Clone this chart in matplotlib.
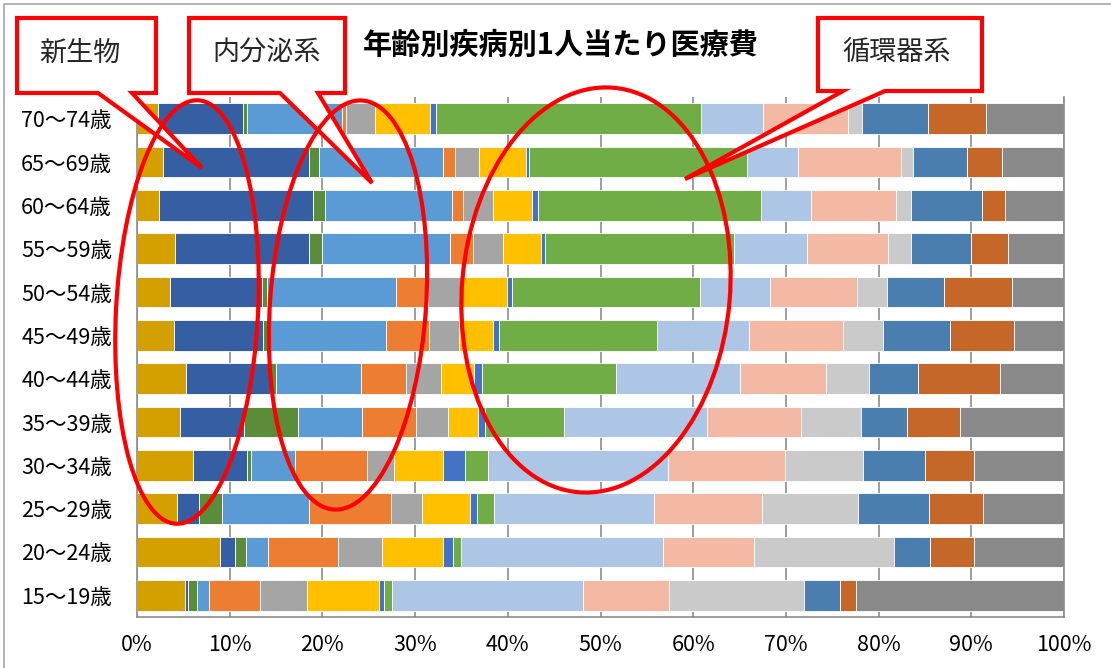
import numpy as np
import matplotlib
matplotlib.use('Agg')
import matplotlib.pyplot as plt
from matplotlib.patches import Polygon, Ellipse

plt.rcParams['font.family'] = ['Noto Sans CJK JP', 'DejaVu Sans']

# age groups, top to bottom
ages = ['70～74歳', '65～69歳', '60～64歳', '55～59歳', '50～54歳', '45～49歳',
        '40～44歳', '35～39歳', '30～34歳', '25～29歳', '20～24歳', '15～19歳']

# share of medical cost per disease group (%)
infect      = [2.3, 2.8, 2.4, 4.1, 3.6, 4.0, 5.3, 4.6, 6.1, 4.3, 8.9, 5.2]
neoplasm    = [9.1, 15.8, 16.6, 14.5, 9.9, 9.6, 9.0, 6.9, 5.8, 2.4, 1.7, 0.3]
blood       = [0.4, 1.1, 1.3, 1.4, 0.5, 0.6, 0.7, 5.9, 0.4, 2.5, 1.2, 1.0]
endocrine   = [10.3, 13.4, 13.7, 13.8, 14.0, 12.7, 9.2, 6.8, 4.8, 9.4, 2.3, 1.3]
mental      = [0.4, 1.3, 1.2, 2.5, 3.4, 4.7, 4.8, 5.9, 7.7, 8.9, 7.6, 5.5]
nervous     = [3.1, 2.6, 3.2, 3.2, 3.7, 3.2, 3.8, 3.4, 3.0, 3.3, 4.7, 5.1]
eye         = [5.9, 5.0, 4.2, 4.1, 4.8, 3.7, 3.5, 3.2, 5.2, 5.2, 6.6, 7.7]
ear         = [0.7, 0.4, 0.7, 0.5, 0.6, 0.6, 0.9, 0.8, 2.4, 0.8, 1.1, 0.6]
circulatory = [28.5, 23.5, 24.0, 20.4, 20.3, 17.1, 14.5, 8.5, 2.5, 1.8, 0.8, 0.8]
respiratory = [6.7, 5.6, 5.4, 7.8, 7.6, 10.0, 13.3, 15.4, 19.4, 17.3, 21.8, 20.7]
digestive   = [9.1, 11.1, 9.2, 8.8, 9.3, 10.1, 9.3, 10.2, 12.7, 11.7, 9.8, 9.2]
skin        = [1.6, 1.3, 1.6, 2.5, 3.3, 4.3, 4.7, 6.4, 8.4, 10.3, 15.1, 14.6]
musculo     = [7.1, 5.8, 7.7, 6.5, 6.1, 7.3, 5.2, 5.0, 6.7, 7.7, 3.9, 3.9]
urinary     = [6.2, 3.8, 2.4, 4.0, 7.4, 6.9, 8.9, 5.7, 5.3, 5.8, 4.7, 1.7]
other       = [8.4, 6.7, 6.4, 6.0, 5.6, 5.4, 6.9, 11.2, 9.7, 8.8, 9.7, 22.5]

series = [infect, neoplasm, blood, endocrine, mental, nervous, eye, ear,
          circulatory, respiratory, digestive, skin, musculo, urinary, other]
colors = ['#D4A000', '#365EA2', '#5A8C3A', '#5B9BD5', '#ED7D31', '#A5A5A5',
          '#FFC000', '#4472C4', '#70AD47', '#ADC6E6', '#F4B9A5', '#CACACA',
          '#4A7EAF', '#C46728', '#898989']

data = np.array(series, dtype=float)
data = data / data.sum(axis=0) * 100  # 100% stacked

fig = plt.figure(figsize=(11.11, 6.68), dpi=100)
ax = fig.add_axes([137 / 1111, 1 - 617 / 668, (1064 - 137) / 1111, (617 - 97) / 668])

y = np.arange(len(ages))
left = np.zeros(len(ages))
for vals, c in zip(data, colors):
    ax.barh(y, vals, left=left, height=0.71, color=c, edgecolor='white', linewidth=0.6, zorder=2)
    left += vals

ax.set_xlim(0, 100)
ax.set_ylim(len(ages) - 0.5, -0.5)
ax.set_yticks(y)
ax.set_yticklabels(ages, fontsize=15.5)
ax.set_xticks(np.arange(0, 101, 10))
ax.set_xticklabels([f'{v}%' for v in range(0, 101, 10)], fontsize=15.5)
ax.tick_params(axis='y', length=0, pad=18)
ax.tick_params(axis='x', length=0, pad=12)
ax.grid(axis='x', color='#8C8C8C', linewidth=1.2, zorder=0)
ax.set_axisbelow(True)
ax.spines['top'].set_visible(False)
for s in ['left', 'bottom', 'right']:
    ax.spines[s].set_color('#8C8C8C')
    ax.spines[s].set_linewidth(1.2)

# overlay in pixel coordinates for title, callouts and circles
ov = fig.add_axes([0, 0, 1, 1], zorder=10)
ov.set_xlim(0, 1111)
ov.set_ylim(668, 0)
ov.axis('off')
ov.patch.set_visible(False)

ov.plot([4, 4, 1111], [668, 4, 4], color='#A6A6A6', lw=1.2)

ov.text(561, 45, '年齢別疾病別1人当たり医療費', fontsize=21, fontweight='bold',
        ha='center', va='center', color='black')

callouts = [
    ('新生物', [(17, 18), (156, 18), (156, 93), (132, 93), (202, 168), (98, 93), (17, 93)], (80, 53)),
    ('内分泌系', [(189, 18), (345, 18), (345, 93), (318, 93), (372, 183), (280, 93), (189, 93)], (267, 53)),
    ('循環器系', [(818, 18), (982, 18), (982, 91), (885, 91), (685, 179), (843, 91), (818, 91)], (897, 53)),
]
for label, pts, (tx, ty) in callouts:
    ov.add_patch(Polygon(pts, closed=True, facecolor='white', edgecolor='#FF0000',
                         linewidth=3, joinstyle='miter'))
    ov.text(tx, ty, label, fontsize=19.5, ha='center', va='center', color='#262626')

for cx, cy, w, h, ang in [(187, 312, 142, 424, 3), (348, 305, 156, 410, 4), (596, 290, 268, 406, 5)]:
    ov.add_patch(Ellipse((cx, cy), w, h, angle=ang, fill=False, edgecolor='#FF0000', linewidth=3))

fig.savefig('out.png', dpi=100)
